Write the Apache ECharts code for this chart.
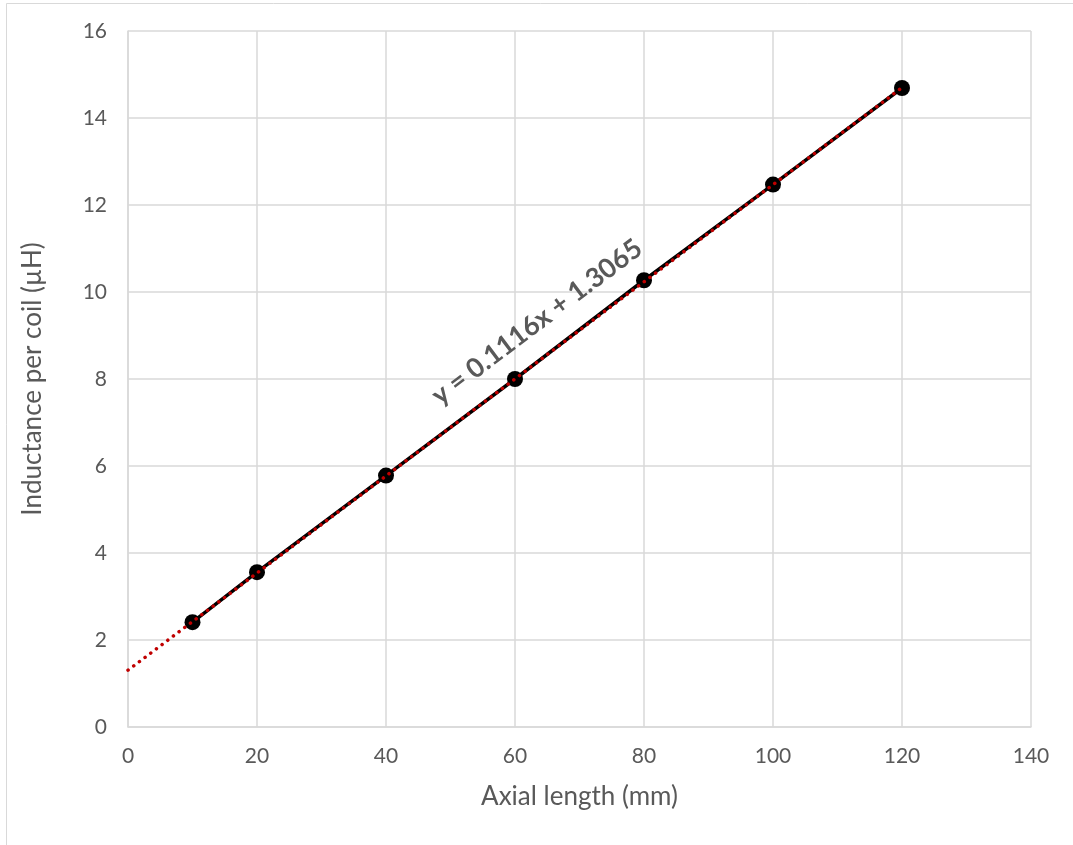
<!DOCTYPE html>
<html>
<head>
<meta charset="utf-8">
<script src="https://cdn.jsdelivr.net/npm/echarts@6/dist/echarts.min.js"></script>
<style>html,body{margin:0;padding:0;background:#fff;}#c{width:1073px;height:845px;}</style>
</head>
<body>
<div id="c"></div>
<script>
var xValues = [10, 20, 40, 60, 80, 100, 120];
var yValues = [2.41, 3.56, 5.78, 8.00, 10.27, 12.47, 14.69];
var trendX = [0, 120];
var trendY = [1.3065, 14.6985];
var equationText = 'y = 0.1116x + 1.3065';

var chart = echarts.init(document.getElementById('c'));
var font = 'Lato, "Open Sans", sans-serif';
chart.setOption({
  animation: false,
  backgroundColor: '#fff',
  grid: {left: 128, right: 42, top: 31, bottom: 118, containLabel: false},
  xAxis: {
    type: 'value', min: 0, max: 140, interval: 20,
    name: 'Axial length (mm)', nameLocation: 'middle', nameGap: 57,
    nameTextStyle: {color: '#595959', fontSize: 26, fontFamily: font},
    axisLine: {show: true, lineStyle: {color: '#d9d9d9', width: 1.5}},
    axisTick: {show: false},
    axisLabel: {color: '#595959', fontSize: 21, fontFamily: font, margin: 19},
    splitLine: {show: true, lineStyle: {color: '#d9d9d9', width: 1.5}}
  },
  yAxis: {
    type: 'value', min: 0, max: 16, interval: 2,
    name: 'Inductance per coil (µH)', nameLocation: 'middle', nameGap: 82,
    nameTextStyle: {color: '#595959', fontSize: 26, fontFamily: font},
    axisLine: {show: true, lineStyle: {color: '#d9d9d9', width: 1.5}},
    axisTick: {show: false},
    axisLabel: {color: '#595959', fontSize: 21, fontFamily: font, margin: 21},
    splitLine: {show: true, lineStyle: {color: '#d9d9d9', width: 1.5}}
  },
  graphic: [
    {type: 'rect', shape: {x: 6.5, y: 3.5, width: 1080, height: 900}, style: {fill: 'none', stroke: '#d9d9d9', lineWidth: 1}, z: -10},
    {type: 'text', x: 537, y: 322, rotation: 37 * Math.PI / 180,
     style: {text: equationText, fill: '#595959', font: 'bold 27px ' + font, textAlign: 'center', textVerticalAlign: 'middle'}, z: 100}
  ],
  series: [
    {
      type: 'line',
      data: xValues.map(function (x, i) { return [x, yValues[i]]; }),
      symbol: 'circle', symbolSize: 16,
      itemStyle: {color: '#000'},
      lineStyle: {color: '#000', width: 3.5},
      z: 2
    },
    {
      type: 'line',
      data: trendX.map(function (x, i) { return [x, trendY[i]]; }),
      symbol: 'none',
      lineStyle: {color: '#c00000', width: 3.5, type: [0.1, 7], cap: 'round'},
      z: 3
    }
  ]
});
</script>
</body>
</html>
